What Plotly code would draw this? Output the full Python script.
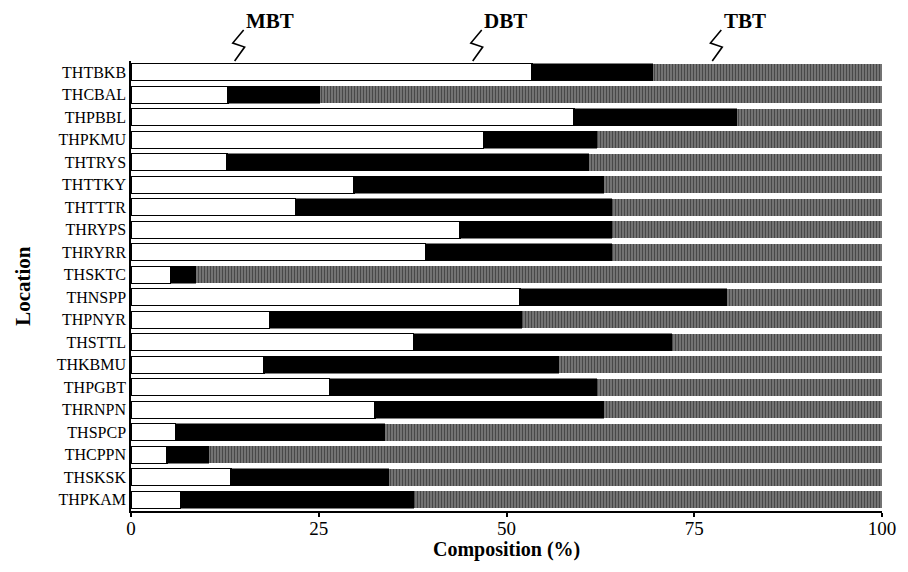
import plotly.graph_objects as go

locations = ["THTBKB", "THCBAL", "THPBBL", "THPKMU", "THTRYS", "THTTKY", "THTTTR",
             "THRYPS", "THRYRR", "THSKTC", "THNSPP", "THPNYR", "THSTTL", "THKBMU",
             "THPGBT", "THRNPN", "THSPCP", "THCPPN", "THSKSK", "THPKAM"]
mbt = [53.4, 12.9, 59.0, 46.9, 12.8, 29.7, 21.9, 43.8, 39.2, 5.3,
       51.8, 18.4, 37.6, 17.7, 26.4, 32.5, 5.9, 4.8, 13.3, 6.6]
dbt = [16.1, 12.3, 21.7, 15.1, 48.2, 33.3, 42.1, 20.2, 24.8, 3.4,
       27.6, 33.6, 34.4, 39.3, 35.6, 30.5, 27.9, 5.6, 21.1, 31.1]
tbt = [30.5, 74.8, 19.3, 38.0, 39.0, 37.0, 36.0, 36.0, 36.0, 91.3,
       20.6, 48.0, 28.0, 43.0, 38.0, 37.0, 66.2, 89.6, 65.6, 62.3]
series_names = ["MBT", "DBT", "TBT"]
label_x = [15.0, 46.7, 78.6]   # where the zigzag legend callouts sit (% axis)
x_ticks = [0, 25, 50, 75, 100]

FONT = "Liberation Serif"

fig = go.Figure()
fig.add_trace(go.Bar(y=locations, x=mbt, orientation="h", name=series_names[0],
                     marker=dict(color="white", line=dict(color="black", width=1.3))))
fig.add_trace(go.Bar(y=locations, x=dbt, orientation="h", name=series_names[1],
                     marker=dict(color="black", line=dict(color="black", width=0.5))))
fig.add_trace(go.Bar(y=locations, x=tbt, orientation="h", name=series_names[2],
                     marker=dict(color="#777777", line=dict(width=0),
                                 pattern=dict(shape="|", fgcolor="#1a1a1a", size=3,
                                              solidity=0.4, fillmode="overlay"))))

shapes = []
annotations = []
for nm, lx in zip(series_names, label_x):
    path = (f"M {lx},1.069 L {lx-1.45},1.04 L {lx+0.13},1.031 L {lx-1.2},1.0")
    shapes.append(dict(type="path", xref="x", yref="paper", path=path,
                       line=dict(color="black", width=1.6)))
    annotations.append(dict(x=lx + 0.1, y=1.088, xref="x", yref="paper", text=f"<b>{nm}</b>",
                            showarrow=False, xanchor="left", yanchor="middle",
                            font=dict(family=FONT, size=21, color="black")))
annotations.append(dict(x=-0.144, y=0.5, xref="paper", yref="paper", text="<b>Location</b>",
                        textangle=-90, showarrow=False, xanchor="center", yanchor="middle",
                        font=dict(family=FONT, size=21, color="black")))
annotations.append(dict(x=0.5, y=-0.086, xref="paper", yref="paper",
                        text="<b>Composition (%)</b>", showarrow=False,
                        xanchor="center", yanchor="middle",
                        font=dict(family=FONT, size=20, color="black")))

fig.update_layout(
    width=908, height=572,
    margin=dict(l=131, r=19, t=61, b=61),
    barmode="stack", bargap=0.24,
    plot_bgcolor="white", paper_bgcolor="white",
    showlegend=False,
    font=dict(family=FONT, color="black"),
    shapes=shapes, annotations=annotations,
    xaxis=dict(range=[0, 100], tickvals=x_ticks, ticktext=[str(v) for v in x_ticks],
               showgrid=False, zeroline=False, showline=True, linecolor="black", linewidth=1.5,
               ticks="outside", ticklen=4, tickwidth=1.5, tickcolor="black",
               ticklabelstandoff=-5,
               tickfont=dict(family=FONT, size=19, color="black")),
    yaxis=dict(autorange="reversed", showgrid=False, zeroline=False, showline=True,
               linecolor="black", linewidth=1.5, ticks="",
               tickfont=dict(family=FONT, size=16, color="black")),
)

fig.write_html("out.html")
